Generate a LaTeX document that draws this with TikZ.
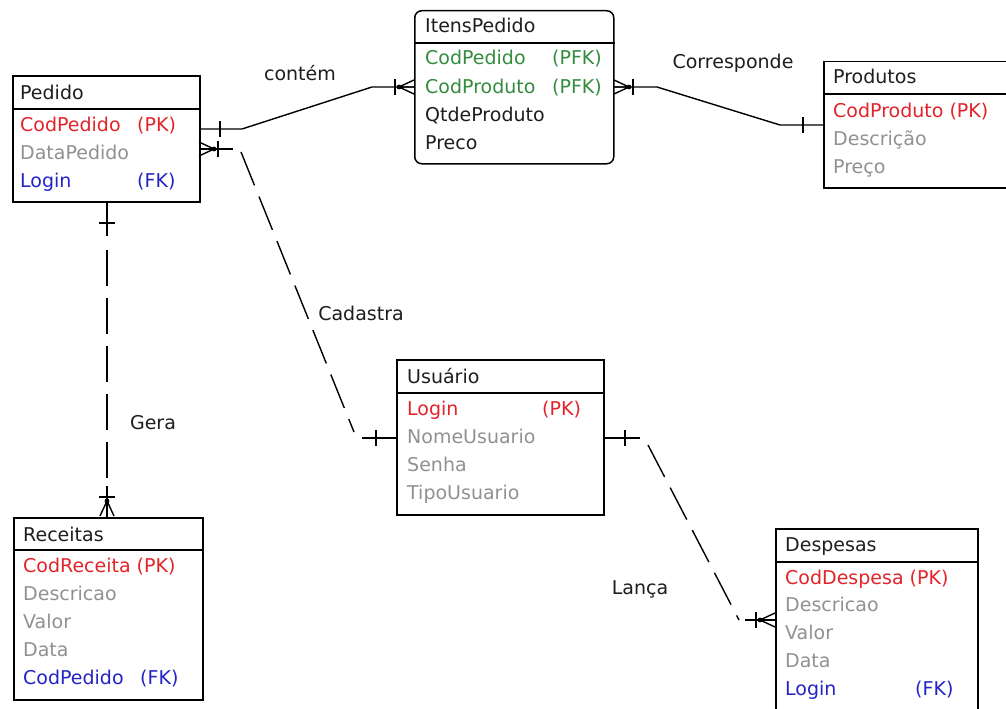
\documentclass[tikz,border=0pt]{standalone}
\usepackage{fontspec}
\setmainfont{DejaVu Sans}
\usetikzlibrary{calc}
\definecolor{pkred}{RGB}{226,36,42}
\definecolor{attgray}{RGB}{145,145,145}
\definecolor{fkblue}{RGB}{36,36,196}
\definecolor{pfkgreen}{RGB}{52,140,62}
\definecolor{ink}{RGB}{30,30,30}
\tikzset{
  ent/.style={draw=black, line width=1.5pt, inner sep=0pt, anchor=north west},
  rowtxt/.style={anchor=base west, inner sep=0pt, font=\fontsize{19}{21}\selectfont},
  enttitle/.style={rowtxt, text=ink},
  keypk/.style={rowtxt, text=pkred},
  keyfk/.style={rowtxt, text=fkblue},
  keypfk/.style={rowtxt, text=pfkgreen},
  attr/.style={rowtxt, text=attgray},
  attrdark/.style={rowtxt, text=ink},
  rel/.style={line width=1.4pt},
  reldash/.style={line width=1.4pt, dash pattern=on 36pt off 12pt},
  rellabel/.style={anchor=base, inner sep=0pt, font=\fontsize{19}{21}\selectfont, text=ink},
  onebar/.pic={\draw[rel] (0,-8) -- (0,8);},
  crowfoot/.pic={
    \draw[rel] (0,0) -- (15,-7) (0,0) -- (15,0) (0,0) -- (15,7);
    \fill (0,0) circle (2.4pt);
    \draw[rel] (-4,-8) -- (-4,8);}
}
\begin{document}
\begin{tikzpicture}[x=1pt,y=-1pt]
\useasboundingbox (0,0) rectangle (1006,709);
\clip (0,0) rectangle (1006,709);
\fill[white] (0,0) rectangle (1006,709);

% ---------- entities ----------
\node[ent, minimum width=187pt, minimum height=126pt] (pedido) at (12,75) {};
\draw[rel] (pedido.west |- 0,109) -- (pedido.east |- 0,109);
\node[enttitle] (pedT) at (20,99) {Pedido};
\node[keypk] (ped1) at (20,131) {CodPedido};
\node[keypk] (ped1k) at (137,131) {(PK)};
\node[attr] (ped2) at (20,159) {DataPedido};
\node[keyfk] (ped3) at (20,187) {Login};
\node[keyfk] (ped3k) at (137,187) {(FK)};

\node[ent, rounded corners=7pt, minimum width=199pt, minimum height=153pt] (itens) at (414,10) {};
\draw[rel] (itens.west |- 0,43) -- (itens.east |- 0,43);
\node[enttitle] (itT) at (425,33) {ItensPedido};
\node[keypfk] (it1) at (425,65) {CodPedido};
\node[keypfk] (it1k) at (552,65) {(PFK)};
\node[keypfk] (it2) at (425,93) {CodProduto};
\node[keypfk] (it2k) at (552,93) {(PFK)};
\node[attrdark] (it3) at (425,121) {QtdeProduto};
\node[attrdark] (it4) at (425,149) {Preco};

\node[ent, minimum width=200pt, minimum height=126pt] (produtos) at (823,61) {};
\draw[rel] (produtos.west |- 0,94) -- (produtos.east |- 0,94);
\node[enttitle] (prT) at (833,84) {Produtos};
\node[keypk] (pr1) at (833,117) {CodProduto (PK)};
\node[attr] (pr2) at (833,145) {Descrição};
\node[attr] (pr3) at (833,173) {Preço};

\node[ent, minimum width=207pt, minimum height=155pt] (usuario) at (396,359) {};
\draw[rel] (usuario.west |- 0,393) -- (usuario.east |- 0,393);
\node[enttitle] (usT) at (407,383) {Usuário};
\node[keypk] (us1) at (407,415) {Login};
\node[keypk] (us1k) at (542,415) {(PK)};
\node[attr] (us2) at (407,443) {NomeUsuario};
\node[attr] (us3) at (407,471) {Senha};
\node[attr] (us4) at (407,499) {TipoUsuario};

\node[ent, minimum width=189pt, minimum height=182pt] (receitas) at (13,517) {};
\draw[rel] (receitas.west |- 0,550) -- (receitas.east |- 0,550);
\node[enttitle] (reT) at (23,541) {Receitas};
\node[keypk] (re1) at (23,572) {CodReceita (PK)};
\node[attr] (re2) at (23,600) {Descricao};
\node[attr] (re3) at (23,628) {Valor};
\node[attr] (re4) at (23,656) {Data};
\node[keyfk] (re5) at (23,684) {CodPedido};
\node[keyfk] (re5k) at (140,684) {(FK)};

\node[ent, minimum width=202pt, minimum height=200pt] (despesas) at (775,528) {};
\draw[rel] (despesas.west |- 0,562) -- (despesas.east |- 0,562);
\node[enttitle] (deT) at (785,551) {Despesas};
\node[keypk] (de1) at (785,584) {CodDespesa (PK)};
\node[attr] (de2) at (785,611) {Descricao};
\node[attr] (de3) at (785,639) {Valor};
\node[attr] (de4) at (785,667) {Data};
\node[keyfk] (de5) at (785,695) {Login};
\node[keyfk] (de5k) at (915,695) {(FK)};

% ---------- Pedido -- ItensPedido (contém) ----------
\coordinate (ca) at (pedido.east |- 0,129);
\coordinate (cb) at (242,129);
\coordinate (cc) at (372,87);
\coordinate (cd) at (itens.west |- 0,87);
\draw[rel] (ca) -- (cb) -- (cc) -- (cd);
\pic at (220,129) {onebar};
\pic at (399,87) {crowfoot};
\node[rellabel] (lcontem) at (300,80) {contém};

% ---------- ItensPedido -- Produtos (Corresponde) ----------
\coordinate (pa) at (itens.east |- 0,87);
\coordinate (pb) at (657,87);
\coordinate (pc) at (780,125);
\coordinate (pd) at (produtos.west |- 0,125);
\draw[rel] (pa) -- (pb) -- (pc) -- (pd);
\pic[rotate=180] at (629,87) {crowfoot};
\pic at (803,125) {onebar};
\node[rellabel] (lcorr) at (733,69) {Corresponde};

% ---------- Pedido -- Usuário (Cadastra) ----------
\coordinate (ua) at (pedido.east |- 0,149);
\coordinate (ub) at (233,149);
\coordinate (uc) at (241,152);
\coordinate (ud) at (354,432);
\coordinate (ue) at (362,438);
\coordinate (uf) at (usuario.west |- 0,438);
\draw[rel] (ua) -- (ub);
\draw[reldash] (uc) -- (ud);
\draw[rel] (ue) -- (uf);
\pic[rotate=180] at (214,149) {crowfoot};
\pic at (376,438) {onebar};
\node[rellabel] (lcad) at (361,320) {Cadastra};

% ---------- Pedido -- Receitas (Gera) ----------
\coordinate (ga) at (pedido.south -| 107,0);
\coordinate (gb) at (107,236);
\coordinate (gc) at (107,250);
\coordinate (gd) at (107,478);
\coordinate (ge) at (107,486);
\coordinate (gf) at (receitas.north -| 107,0);
\draw[rel] (ga) -- (gb);
\draw[reldash] (gc) -- (gd);
\draw[rel] (ge) -- (gf);
\pic[rotate=90] at (107,223) {onebar};
\pic[rotate=-90] at (107,501) {crowfoot};
\node[rellabel] (lgera) at (153,429) {Gera};

% ---------- Usuário -- Despesas (Lança) ----------
\coordinate (la) at (usuario.east |- 0,438);
\coordinate (lb) at (640,438);
\coordinate (lc) at (648,445);
\coordinate (ld) at (739,620);
\coordinate (le) at (745,620);
\coordinate (lf) at (despesas.west |- 0,620);
\draw[rel] (la) -- (lb);
\draw[reldash] (lc) -- (ld);
\draw[rel] (le) -- (lf);
\pic at (625,438) {onebar};
\pic at (760,620) {crowfoot};
\node[rellabel] (llanca) at (640,594) {Lança};
\end{tikzpicture}
\end{document}
